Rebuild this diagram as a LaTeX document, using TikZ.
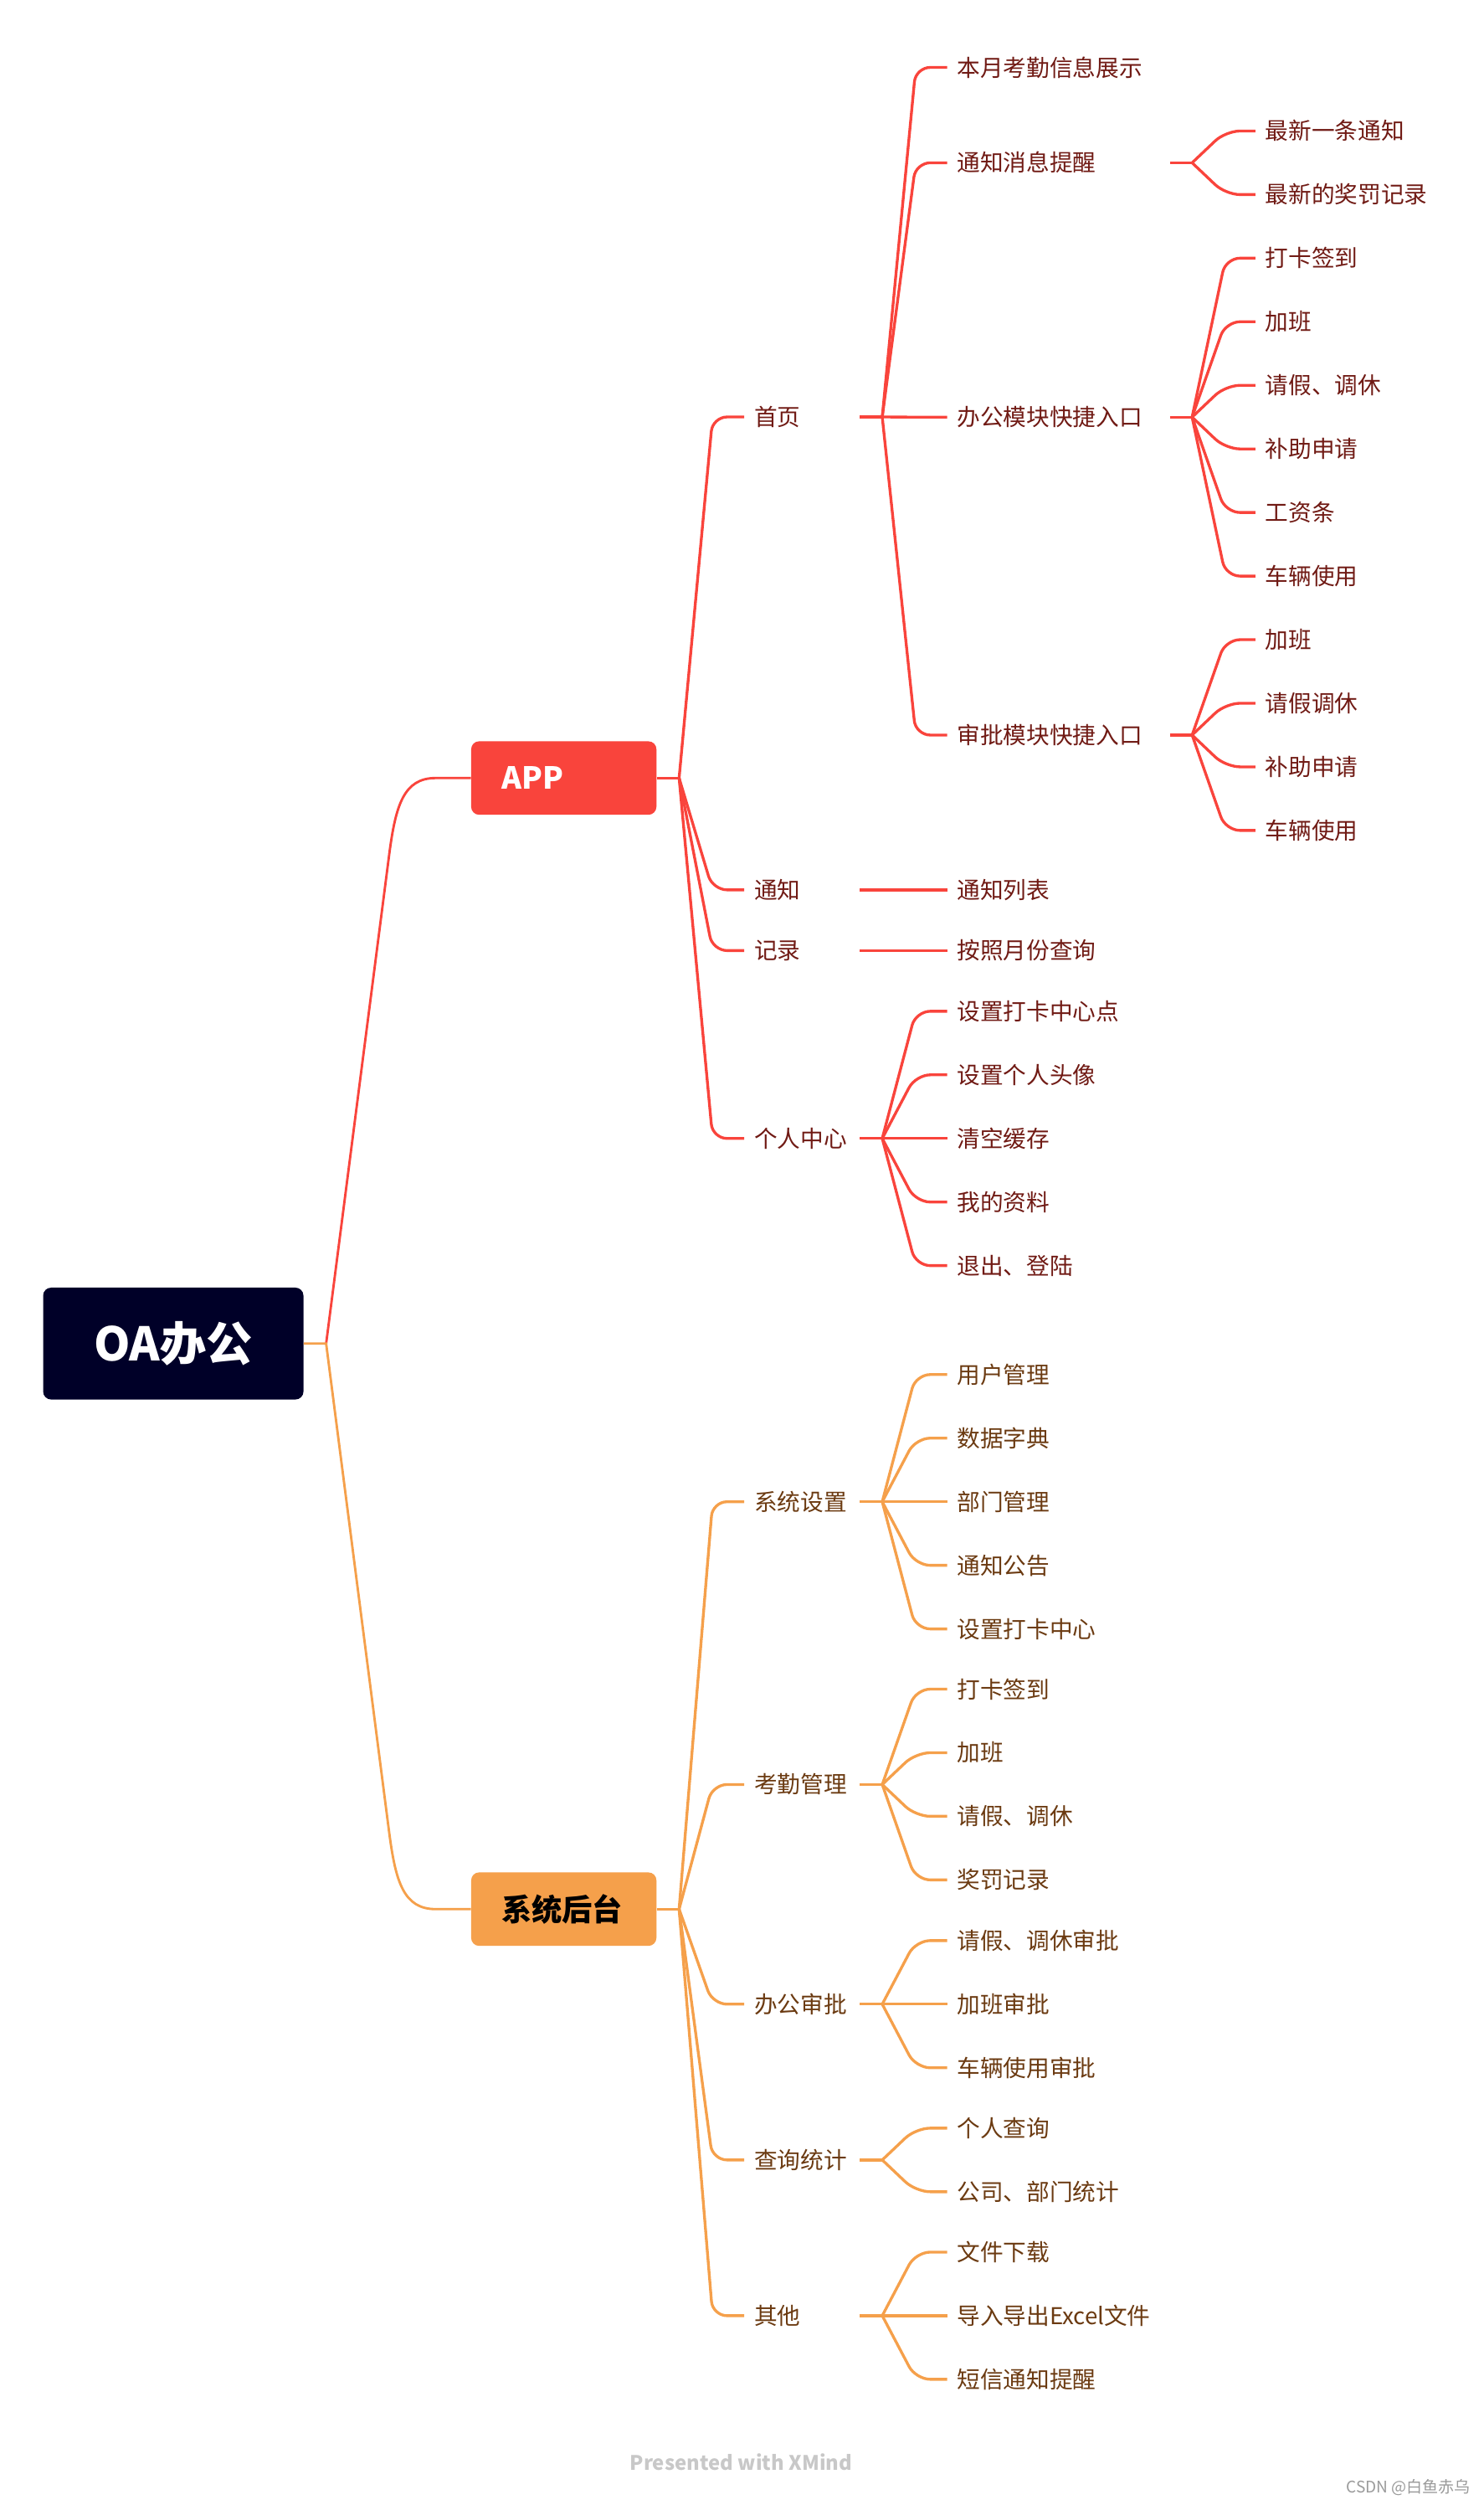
\documentclass[tikz,border=0pt]{standalone}
\usepackage{fontspec}
\setmainfont{Noto Sans CJK SC}
\usetikzlibrary{calc}
\definecolor{rline}{HTML}{F9443C}
\definecolor{oline}{HTML}{F5A04B}
\definecolor{rtext}{HTML}{701A14}
\definecolor{otext}{HTML}{6B3A11}
\definecolor{rootfill}{HTML}{000028}
\definecolor{footc}{HTML}{C8C8C8}
\definecolor{csdnc}{HTML}{9A9A9A}
\newcommand\fanto[3]{\draw[#1,rounded corners=9pt] let \p1=(#2), \p2=(#3.west) in (\p1) -- (\x1+21pt,\y2) -- (\p2);}
\tikzset{
  base/.style={anchor=west, inner ysep=0pt, inner xsep=6pt, font=\fontsize{14.5}{17}\selectfont, text height=12pt, text depth=1pt},
  Ltwo/.style={base, text width=60pt, align=left},
  Lthree/.style={base, text width=127pt, align=left},
  Lfour/.style={base},
  rt/.style={text=rtext},
  ot/.style={text=otext},
  rl/.style={draw=rline, line width=1.75pt},
  ol/.style={draw=oline, line width=1.75pt},
  rootl/.style={line width=1.5pt},
}
\begin{document}
\begin{tikzpicture}[x=1pt,y=-1pt]
\useasboundingbox (0,0) rectangle (929,1568);

% main nodes
\node[fill=rootfill, rounded corners=5pt, minimum width=163pt, minimum height=70pt, text=white, font=\bfseries\fontsize{29}{32}\selectfont] (root) at (108.5,841) {OA办公};
\node[fill=rline, rounded corners=5pt, minimum height=46pt, text width=78pt, inner xsep=19pt, align=left, text=white, font=\bfseries\fontsize{19}{22}\selectfont] (app) at (353,487) {APP};
\node[fill=oline, rounded corners=5pt, minimum height=46pt, text width=78pt, inner xsep=19pt, align=left, text=black, font=\bfseries\fontsize{19}{22}\selectfont] (sys) at (353,1195) {系统后台};

% APP level 2
\node[Ltwo,rt] (home) at (466,261) {首页};
\node[Ltwo,rt] (tz) at (466,557) {通知};
\node[Ltwo,rt] (jl) at (466,595) {记录};
\node[Ltwo,rt] (me) at (466,712.6) {个人中心};

% home level 3
\node[Lthree,rt] (h1) at (593,42.2) {本月考勤信息展示};
\node[Lthree,rt] (h2) at (593,101.9) {通知消息提醒};
\node[Lthree,rt] (h3) at (593,261.1) {办公模块快捷入口};
\node[Lthree,rt] (h4) at (593,460.1) {审批模块快捷入口};

% level 4
\node[Lfour,rt] (h2a) at (786,82) {最新一条通知};
\node[Lfour,rt] (h2b) at (786,121.8) {最新的奖罚记录};
\node[Lfour,rt] (h3a) at (786,161.6) {打卡签到};
\node[Lfour,rt] (h3b) at (786,201.4) {加班};
\node[Lfour,rt] (h3c) at (786,241.2) {请假、调休};
\node[Lfour,rt] (h3d) at (786,281) {补助申请};
\node[Lfour,rt] (h3e) at (786,320.8) {工资条};
\node[Lfour,rt] (h3f) at (786,360.6) {车辆使用};
\node[Lfour,rt] (h4a) at (786,400.4) {加班};
\node[Lfour,rt] (h4b) at (786,440.2) {请假调休};
\node[Lfour,rt] (h4c) at (786,480) {补助申请};
\node[Lfour,rt] (h4d) at (786,519.8) {车辆使用};

\node[Lfour,rt] (tz1) at (593,557) {通知列表};
\node[Lfour,rt] (jl1) at (593,595) {按照月份查询};

\node[Lfour,rt] (me1) at (593,633) {设置打卡中心点};
\node[Lfour,rt] (me2) at (593,672.8) {设置个人头像};
\node[Lfour,rt] (me3) at (593,712.6) {清空缓存};
\node[Lfour,rt] (me4) at (593,752.4) {我的资料};
\node[Lfour,rt] (me5) at (593,792.2) {退出、登陆};

% system level 2
\node[Ltwo,ot] (s1) at (466,940) {系统设置};
\node[Ltwo,ot] (s2) at (466,1117) {考勤管理};
\node[Ltwo,ot] (s3) at (466,1254.5) {办公审批};
\node[Ltwo,ot] (s4) at (466,1352) {查询统计};
\node[Ltwo,ot] (s5) at (466,1449.5) {其他};

\node[Lfour,ot] (s1a) at (593,860.4) {用户管理};
\node[Lfour,ot] (s1b) at (593,900.2) {数据字典};
\node[Lfour,ot] (s1c) at (593,940) {部门管理};
\node[Lfour,ot] (s1d) at (593,979.8) {通知公告};
\node[Lfour,ot] (s1e) at (593,1019.6) {设置打卡中心};

\node[Lfour,ot] (s2a) at (593,1057.3) {打卡签到};
\node[Lfour,ot] (s2b) at (593,1097.1) {加班};
\node[Lfour,ot] (s2c) at (593,1136.9) {请假、调休};
\node[Lfour,ot] (s2d) at (593,1176.7) {奖罚记录};

\node[Lfour,ot] (s3a) at (593,1214.7) {请假、调休审批};
\node[Lfour,ot] (s3b) at (593,1254.5) {加班审批};
\node[Lfour,ot] (s3c) at (593,1294.3) {车辆使用审批};

\node[Lfour,ot] (s4a) at (593,1332.1) {个人查询};
\node[Lfour,ot] (s4b) at (593,1371.9) {公司、部门统计};

\node[Lfour,ot] (s5a) at (593,1409.7) {文件下载};
\node[Lfour,ot] (s5b) at (593,1449.5) {导入导出Excel文件};
\node[Lfour,ot] (s5c) at (593,1489.3) {短信通知提醒};

% footer
\node[font=\bfseries\fontsize{12.5}{14}\selectfont, text=footc] (xm) at (464,1541) {Presented with XMind};
\node[anchor=east, inner sep=0pt, font=\fontsize{10}{12}\selectfont, text=csdnc] (csdn) at (921,1557) {CSDN @白鱼赤乌};

% junctions
\coordinate (jR) at ([xshift=14pt]root.east);
\coordinate (jA) at ([xshift=14pt]app.east);
\coordinate (jS) at ([xshift=14pt]sys.east);
\coordinate (jhome) at ([xshift=14pt]home.east);
\coordinate (jme) at ([xshift=14pt]me.east);
\coordinate (jh2) at ([xshift=14pt]h2.east);
\coordinate (jh3) at ([xshift=14pt]h3.east);
\coordinate (jh4) at ([xshift=14pt]h4.east);
\coordinate (js1) at ([xshift=14pt]s1.east);
\coordinate (js2) at ([xshift=14pt]s2.east);
\coordinate (js3) at ([xshift=14pt]s3.east);
\coordinate (js4) at ([xshift=14pt]s4.east);
\coordinate (js5) at ([xshift=14pt]s5.east);

% red connectors
\draw[rl,rootl] (jR) -- ($(app.west)+(-51,47)$) .. controls ($(app.west)+(-47,17)$) and ($(app.west)+(-42,0)$) .. ($(app.west)+(-22,0)$) -- (app.west);
\draw[rl] (app.east) -- (jA);
\foreach \c in {home,tz,jl,me} {\fanto{rl}{jA}{\c}}
\draw[rl] (home.east) -- (jhome);
\foreach \c in {h1,h2,h3,h4} {\fanto{rl}{jhome}{\c}}
\draw[rl] (h2.east) -- (jh2);
\foreach \c in {h2a,h2b} {\fanto{rl}{jh2}{\c}}
\draw[rl] (h3.east) -- (jh3);
\foreach \c in {h3a,h3b,h3c,h3d,h3e,h3f} {\fanto{rl}{jh3}{\c}}
\draw[rl] (h4.east) -- (jh4);
\foreach \c in {h4a,h4b,h4c,h4d} {\fanto{rl}{jh4}{\c}}
\draw[rl] (tz.east) -- (tz1.west);
\draw[rl] (jl.east) -- (jl1.west);
\draw[rl] (me.east) -- (jme);
\foreach \c in {me1,me2,me3,me4,me5} {\fanto{rl}{jme}{\c}}

% orange connectors
\draw[ol,rootl] (root.east) -- (jR) -- ($(sys.west)+(-51,-47)$) .. controls ($(sys.west)+(-47,-17)$) and ($(sys.west)+(-42,0)$) .. ($(sys.west)+(-22,0)$) -- (sys.west);
\draw[ol] (sys.east) -- (jS);
\foreach \c in {s1,s2,s3,s4,s5} {\fanto{ol}{jS}{\c}}
\draw[ol] (s1.east) -- (js1);
\foreach \c in {s1a,s1b,s1c,s1d,s1e} {\fanto{ol}{js1}{\c}}
\draw[ol] (s2.east) -- (js2);
\foreach \c in {s2a,s2b,s2c,s2d} {\fanto{ol}{js2}{\c}}
\draw[ol] (s3.east) -- (js3);
\foreach \c in {s3a,s3b,s3c} {\fanto{ol}{js3}{\c}}
\draw[ol] (s4.east) -- (js4);
\foreach \c in {s4a,s4b} {\fanto{ol}{js4}{\c}}
\draw[ol] (s5.east) -- (js5);
\foreach \c in {s5a,s5b,s5c} {\fanto{ol}{js5}{\c}}
\end{tikzpicture}
\end{document}
